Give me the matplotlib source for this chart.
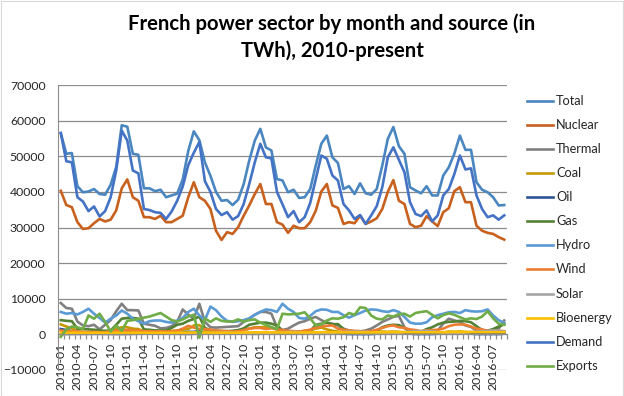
import matplotlib
matplotlib.use("Agg")
import matplotlib.pyplot as plt
from matplotlib.lines import Line2D
from matplotlib.patches import Rectangle
import numpy as np

plt.rcParams['font.family'] = ['Lato', 'DejaVu Sans']

# ---- data (monthly, 2010-01 .. 2016-09) ----
months = [f"{y}-{m:02d}" for y in range(2010, 2017) for m in range(1, 13)][:81]

total = [56500, 50700, 50900, 41600, 39900, 40100, 40800, 39400, 39200, 42000, 47000, 58700,
         58300, 50700, 50400, 41000, 41000, 40200, 40600, 38500, 39000, 39500, 43500, 51500,
         57000, 54500, 48300, 44500, 40000, 37500, 37700, 36300, 37800, 42200, 48800, 54400,
         57700, 52500, 51600, 43600, 43200, 39900, 40600, 38300, 38500, 40800, 47400, 53500,
         55800, 49700, 48100, 40800, 41600, 39400, 42400, 39600, 39200, 40800, 47400, 54900,
         58200, 52800, 50700, 41300, 40400, 39600, 41600, 39000, 39000, 44600, 46900, 50700,
         55800, 51800, 51800, 42700, 40600, 39900, 38500, 36200, 36300]
nuclear = [40300, 36300, 35700, 31500, 29600, 29800, 31200, 32400, 31700, 32200, 34800, 41000,
           43500, 38500, 37500, 32900, 32900, 32400, 33300, 31500, 31500, 32400, 33300, 38500,
           42700, 38500, 37500, 35200, 29100, 26500, 28700, 28200, 30100, 33300, 36200, 39400,
           42200, 36600, 36600, 31500, 30800, 28500, 30500, 29800, 29800, 31500, 34700, 40100,
           42200, 36200, 35500, 31000, 31500, 31200, 33300, 31000, 31700, 32600, 35200, 40000,
           43300, 37500, 36600, 31000, 30100, 30500, 33200, 31700, 30400, 34300, 35400, 40200,
           41300, 37100, 37100, 30500, 29100, 28500, 28200, 27300, 26600]
thermal = [8800, 7400, 7200, 3600, 2500, 2300, 2700, 1400, 2700, 4000, 6500, 8600,
           6800, 6800, 6700, 3000, 2700, 2400, 1700, 1800, 2300, 3500, 7000, 5500,
           4500, 8600, 3500, 2000, 1900, 2000, 2100, 2200, 2300, 3500, 4400, 5500,
           6300, 6300, 5800, 2000, 1200, 1600, 2500, 3300, 3700, 4400, 4900, 4000,
           3300, 3000, 2500, 1600, 1100, 700, 800, 1100, 1600, 2500, 3500, 4200,
           4900, 5200, 2000, 700, 700, 850, 700, 700, 1100, 3000, 4400, 3900,
           3500, 2500, 2100, 1100, 700, 1100, 1100, 1600, 3900]
coal = [2800, 2200, 1800, 800, 600, 600, 700, 500, 700, 1000, 1500, 2000,
        2000, 1600, 1500, 800, 900, 1000, 700, 700, 900, 1100, 1300, 1500,
        2500, 2600, 1200, 900, 600, 600, 500, 700, 1100, 1300, 1600, 2000,
        2000, 2100, 2000, 1400, 800, 400, 500, 700, 1000, 1200, 1600, 1900,
        1400, 1000, 800, 500, 400, 500, 200, 300, 400, 600, 800, 700,
        800, 700, 600, 400, 300, 300, 300, 400, 500, 500, 800, 700,
        800, 700, 500, 300, 200, 200, 200, 300, 400]
oil = [1500, 1200, 900, 600, 500, 400, 400, 400, 400, 500, 800, 900,
       700, 600, 500, 400, 300, 300, 300, 300, 300, 400, 500, 700,
       700, 900, 400, 300, 300, 200, 200, 200, 300, 300, 400, 500,
       500, 500, 400, 300, 200, 200, 200, 200, 200, 300, 300, 300,
       300, 200, 200, 200, 100, 100, 100, 100, 100, 200, 200, 200,
       300, 300, 200, 200, 100, 100, 100, 100, 200, 200, 200, 200,
       200, 200, 200, 100, 100, 100, 100, 100, 200]
gas = [4000, 3800, 3700, 1600, 1500, 1400, 1300, 1100, 1000, 1100, 2700, 4400,
       4600, 4600, 4400, 1400, 1300, 1100, 1100, 1100, 1800, 2700, 3000, 3800,
       4300, 5000, 1800, 1200, 1000, 900, 900, 1000, 1200, 1700, 2700, 3000,
       3300, 3300, 3000, 2500, 1100, 800, 700, 700, 600, 900, 2700, 3000,
       3300, 2800, 2900, 1500, 600, 500, 500, 600, 700, 1000, 2000, 2500,
       2700, 2600, 1800, 900, 700, 700, 1500, 2000, 2800, 3300, 3500, 3600,
       3800, 3700, 3400, 2300, 1200, 1000, 1500, 2200, 2800]
hydro = [6300, 5800, 6000, 5600, 6300, 7200, 5800, 4600, 3300, 4400, 5300, 6700,
         5800, 4400, 3700, 3000, 3700, 3900, 3900, 3500, 3300, 3900, 4600, 6300,
         7200, 5300, 4000, 7800, 6800, 5000, 3800, 3500, 3700, 4000, 4500, 5500,
         6300, 7000, 6800, 6300, 8600, 7200, 6300, 4600, 4400, 5200, 6500, 7000,
         6900, 6300, 6300, 5400, 4700, 5400, 6000, 6700, 7000, 6900, 6500, 6300,
         6800, 6300, 4900, 3300, 3000, 3000, 3400, 4800, 5400, 5800, 6200, 6300,
         6000, 6800, 6500, 6400, 6500, 7000, 5300, 4000, 3200]
wind = [1100, 900, 1000, 800, 700, 600, 700, 600, 600, 900, 1100, 1000,
        1300, 1000, 1100, 900, 900, 800, 900, 800, 900, 1000, 1600, 2400,
        1900, 1500, 1500, 1300, 1100, 1000, 900, 800, 900, 1200, 1600, 1800,
        1800, 1500, 1700, 1400, 1200, 1000, 900, 800, 1000, 1300, 1900, 2200,
        2400, 2500, 1600, 1300, 1100, 1000, 900, 900, 900, 1300, 1800, 2300,
        2500, 2000, 1800, 1400, 1200, 900, 1100, 1200, 1300, 1600, 2300, 2700,
        2800, 2700, 2200, 1600, 1400, 1000, 1000, 1000, 900]
solar = [20, 30, 50, 70, 90, 100, 110, 100, 80, 60, 30, 20,
         60, 100, 180, 260, 300, 290, 280, 260, 220, 160, 100, 70,
         130, 220, 350, 400, 500, 520, 550, 510, 400, 270, 160, 120,
         200, 280, 400, 500, 550, 640, 720, 640, 480, 340, 220, 160,
         260, 380, 560, 650, 760, 760, 800, 700, 620, 430, 280, 200,
         300, 420, 640, 780, 900, 900, 960, 860, 660, 450, 330, 250,
         380, 480, 700, 760, 900, 940, 1100, 1000, 800]
bioenergy = [480, 450, 470, 440, 430, 420, 440, 420, 430, 460, 480, 500,
             500, 470, 480, 450, 440, 430, 450, 430, 440, 470, 500, 520,
             540, 520, 510, 490, 480, 470, 480, 470, 480, 520, 540, 560,
             580, 560, 560, 540, 520, 510, 520, 510, 520, 560, 580, 600,
             600, 580, 580, 560, 550, 540, 550, 540, 550, 580, 600, 620,
             640, 620, 610, 590, 580, 570, 580, 570, 580, 610, 640, 650,
             670, 650, 640, 620, 610, 600, 610, 600, 620]
demand = [56500, 48600, 48300, 38500, 37300, 34600, 35900, 33100, 34600, 38500, 46000, 57200,
          54400, 46000, 45200, 35200, 34900, 34300, 34100, 32400, 34500, 37500, 41500, 47500,
          51000, 54000, 43000, 40000, 35200, 33500, 34300, 32200, 33200, 36600, 42200, 48300,
          53500, 49700, 49400, 40000, 36500, 32900, 34600, 31500, 32900, 36900, 43600, 50200,
          49300, 44600, 43200, 36600, 34800, 32400, 33500, 31000, 33400, 36000, 41300, 49700,
          52500, 49000, 45500, 37100, 33800, 33200, 34800, 31700, 33400, 39000, 40800, 45000,
          50200, 46300, 46600, 39000, 35200, 32900, 33400, 32200, 33400]
exports = [-700, 1400, 2200, 2000, 1500, 5300, 4400, 5800, 3500, 800, 2500, 1000,
           3800, 4000, 4300, 4700, 5000, 5500, 6000, 5000, 4000, 3600, 4200, 5000,
           5500, -900, 4500, 3500, 4500, 3800, 3600, 3600, 4200, 3600, 4000, 4200,
           3300, 2700, 2000, 1500, 5800, 5600, 5700, 5800, 6200, 4500, 2500, 2800,
           3900, 4500, 4400, 4800, 6000, 5500, 7600, 7400, 5300, 4400, 4200, 5300,
           5000, 5700, 5800, 5000, 6000, 6300, 6500, 5500, 4500, 5400, 5900, 5500,
           4800, 4200, 4500, 4300, 5000, 6500, 4500, 3000, 2700]

series_names = ["Total", "Nuclear", "Thermal", "Coal", "Oil", "Gas", "Hydro", "Wind",
                "Solar", "Bioenergy", "Demand", "Exports"]
series_values = [total, nuclear, thermal, coal, oil, gas, hydro, wind, solar, bioenergy,
                 demand, exports]
colors = ["#4A86BF", "#C8601E", "#808080", "#C49A00", "#2F5597", "#548235",
          "#5B9BD5", "#ED7D31", "#A5A5A5", "#FFC000", "#4472C4", "#70AD47"]

# ---- figure ----
fig = plt.figure(figsize=(6.24, 3.96), dpi=100)
W, H = 624, 396
ax = fig.add_axes([58 / W, 1 - 370 / H, (507 - 58) / W, (370 - 85) / H])

x = np.arange(len(months))
for name, vals, c in zip(series_names, series_values, colors):
    ax.plot(x, vals, color=c, lw=1.9, solid_joinstyle='round', label=name)

ax.set_xlim(-0.5, len(months) - 0.5)
ax.set_ylim(-10000, 70000)
ax.set_yticks(np.arange(-10000, 70001, 10000))
ax.yaxis.grid(True, color="#8C8C8C", lw=0.9)
ax.set_axisbelow(True)
ax.tick_params(axis='y', length=0, pad=9, labelsize=8.8, labelcolor="#262626")

for s in ["top", "right"]:
    ax.spines[s].set_visible(False)
ax.spines["left"].set_color("#8C8C8C")
ax.spines["bottom"].set_color("#8C8C8C")
ax.spines["bottom"].set_position(("data", 0))

ax.set_xticks(x[::3])
ax.set_xticklabels(months[::3], rotation=90, fontsize=8.8, color="#262626")
ax.set_xticks(np.arange(-0.5, len(months), 1), minor=True)
ax.tick_params(axis='x', which='major', length=0, pad=6.0)
ax.tick_params(axis='x', which='minor', length=3.5, color="#8C8C8C", width=0.9)

# title
fig.text(332 / W, 1 - 13 / H, "French power sector by month and source (in\nTWh), 2010-present",
         ha='center', va='top', fontsize=14.6, fontweight='bold', linespacing=1.4)

# legend (manual, vertical list on the right)
for k, (name, c) in enumerate(zip(series_names, colors)):
    yy = 1 - (100.7 + 24.1 * k) / H
    fig.add_artist(Line2D([527 / W, 553 / W], [yy, yy], color=c, lw=1.9,
                          transform=fig.transFigure))
    fig.text(556 / W, yy, name, ha='left', va='center', fontsize=9.2, color="#262626")

# chart border
fig.add_artist(Rectangle((0.5 / W, 0.5 / H), (W - 1.5) / W, (H - 1.5) / H,
                         transform=fig.transFigure, fill=False, edgecolor="#D9D9D9", lw=0.8))

fig.savefig("out.png", dpi=100)
